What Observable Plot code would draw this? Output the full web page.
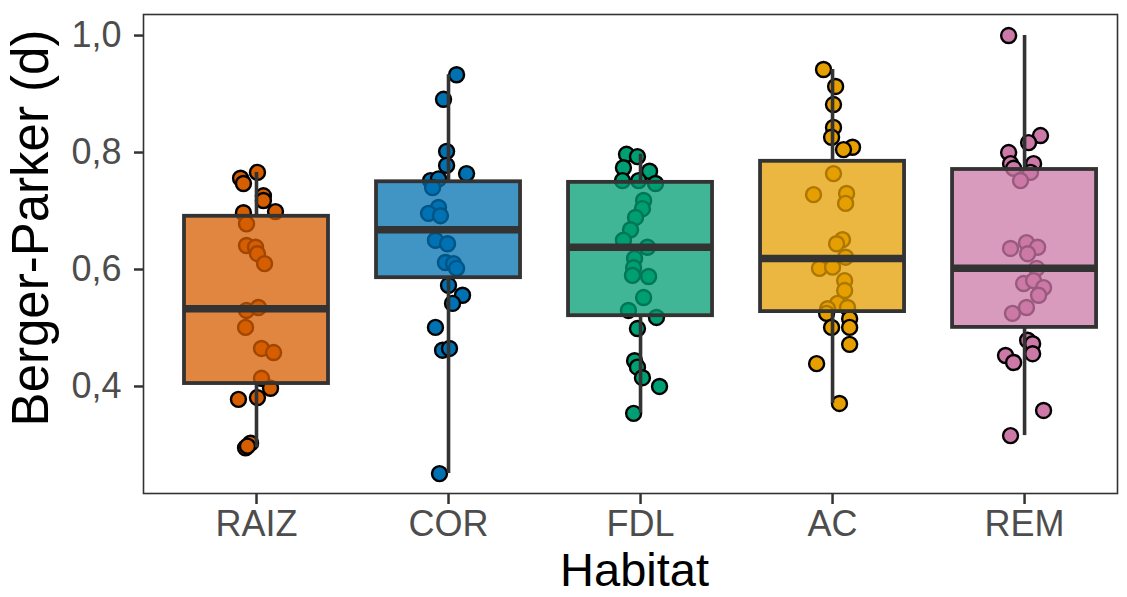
<!DOCTYPE html>
<html>
<head>
<meta charset="utf-8">
<script src="https://cdn.jsdelivr.net/npm/d3@7"></script>
<script src="https://cdn.jsdelivr.net/npm/@observablehq/plot@0.6"></script>
<style>
  html, body { margin: 0; padding: 0; background: #fff; }
  svg { display: block; }
</style>
</head>
<body>
<div id="chart"></div>
<script>
// ---- Data ----
const habitats = ["RAIZ", "COR", "FDL", "AC", "REM"];
const pointColors = ["#D55E00", "#0072B2", "#009E73", "#E69F00", "#CC79A7"];

// Berger-Parker values per habitat, and horizontal jitter (in category units)
const raizValues = [0.766, 0.756, 0.747, 0.726, 0.718, 0.697, 0.699, 0.678, 0.641, 0.638, 0.627, 0.610, 0.530, 0.535, 0.501, 0.465, 0.458, 0.414, 0.397, 0.381, 0.378, 0.303, 0.295, 0.298];
const raizJitter = [0.005, -0.083, -0.068, 0.036, 0.036, -0.068, 0.099, -0.052, -0.052, -0.005, 0.005, 0.042, -0.052, 0.010, -0.057, 0.026, 0.089, 0.026, 0.073, 0.005, -0.094, -0.031, -0.057, -0.047];

const corValues = [0.933, 0.891, 0.802, 0.778, 0.764, 0.752, 0.755, 0.740, 0.706, 0.696, 0.692, 0.650, 0.644, 0.612, 0.610, 0.602, 0.573, 0.556, 0.542, 0.501, 0.462, 0.465, 0.251];
const corJitter = [0.042, -0.026, -0.010, -0.010, 0.094, -0.094, -0.052, -0.083, -0.052, -0.104, -0.042, -0.068, -0.005, -0.016, 0.026, 0.042, 0.000, 0.073, 0.021, -0.068, -0.031, 0.005, -0.047];

const fdlValues = [0.797, 0.793, 0.774, 0.768, 0.752, 0.752, 0.747, 0.718, 0.704, 0.689, 0.668, 0.650, 0.638, 0.619, 0.603, 0.590, 0.588, 0.552, 0.530, 0.518, 0.499, 0.444, 0.433, 0.415, 0.400, 0.354];
const fdlJitter = [-0.073, -0.016, -0.089, 0.047, -0.094, -0.010, 0.078, 0.016, 0.010, -0.026, -0.052, -0.089, 0.036, -0.031, -0.036, -0.042, 0.042, 0.016, -0.063, 0.083, -0.016, -0.031, -0.016, 0.010, 0.099, -0.036];

const acValues = [0.942, 0.913, 0.882, 0.843, 0.826, 0.809, 0.805, 0.764, 0.728, 0.730, 0.713, 0.651, 0.644, 0.621, 0.602, 0.604, 0.581, 0.564, 0.542, 0.533, 0.535, 0.525, 0.516, 0.501, 0.501, 0.472, 0.439, 0.371];
const acJitter = [-0.047, 0.016, 0.005, 0.005, -0.005, 0.104, 0.057, 0.005, -0.099, 0.073, 0.068, 0.052, 0.021, 0.068, -0.068, 0.000, 0.063, 0.063, 0.026, -0.026, 0.078, -0.031, 0.089, 0.089, -0.005, 0.089, -0.083, 0.036];

const remValues = [1.000, 0.829, 0.817, 0.800, 0.781, 0.781, 0.773, 0.766, 0.752, 0.636, 0.646, 0.638, 0.627, 0.602, 0.576, 0.581, 0.569, 0.556, 0.535, 0.525, 0.479, 0.473, 0.456, 0.453, 0.441, 0.359, 0.316];
const remJitter = [-0.083, 0.083, 0.021, -0.083, -0.073, 0.047, -0.057, 0.031, -0.021, -0.073, 0.010, 0.068, 0.016, 0.063, -0.005, 0.047, 0.099, 0.073, 0.010, -0.063, 0.016, 0.042, 0.042, -0.099, -0.057, 0.099, -0.073];

// Box statistics per habitat
const whiskerLow  = [0.295, 0.251, 0.354, 0.371, 0.316];
const q1          = [0.405, 0.586, 0.521, 0.528, 0.501];
const medians     = [0.533, 0.668, 0.638, 0.619, 0.602];
const q3          = [0.691, 0.750, 0.749, 0.785, 0.771];
const whiskerHigh = [0.766, 0.933, 0.797, 0.942, 1.000];

const yTicks = [0.4, 0.6, 0.8, 1.0];

// ---- Build tables ----
const valueSets = [raizValues, corValues, fdlValues, acValues, remValues];
const jitterSets = [raizJitter, corJitter, fdlJitter, acJitter, remJitter];
const points = [];
habitats.forEach((h, i) => {
  valueSets[i].forEach((v, j) => {
    points.push({habitat: h, pos: i + 1 + jitterSets[i][j], value: v});
  });
});
const boxes = habitats.map((h, i) => ({
  habitat: h, pos: i + 1,
  lo: whiskerLow[i], q1: q1[i], med: medians[i], q3: q3[i], hi: whiskerHigh[i]
}));

const halfBox = 0.375;
const font = "'Liberation Sans', Arial, Helvetica, sans-serif";
const comma = d => d.toFixed(1).replace(".", ",");

const chart = Plot.plot({
  width: 1127,
  height: 597,
  marginLeft: 143,
  marginRight: 10,
  marginTop: 14,
  marginBottom: 104,
  style: {fontFamily: font, background: "#fff"},
  x: {domain: [0.4115, 5.484], axis: null},
  y: {domain: [0.217, 1.036], axis: null},
  color: {domain: habitats, range: pointColors},
  marks: [
    Plot.dot(points, {
      x: "pos", y: "value", r: 7.5,
      fill: "habitat", stroke: "#000", strokeWidth: 2.4
    }),
    Plot.ruleX(boxes, {x: "pos", y1: "q3", y2: "hi", stroke: "#333", strokeWidth: 3.6}),
    Plot.ruleX(boxes, {x: "pos", y1: "lo", y2: "q1", stroke: "#333", strokeWidth: 3.6}),
    Plot.rect(boxes, {
      x1: d => d.pos - halfBox, x2: d => d.pos + halfBox,
      y1: "q1", y2: "q3",
      fill: "habitat", fillOpacity: 0.75,
      stroke: "#333", strokeWidth: 3.8
    }),
    Plot.ruleY(boxes, {
      y: "med", x1: d => d.pos - halfBox, x2: d => d.pos + halfBox,
      stroke: "#333", strokeWidth: 7.5
    }),
    Plot.frame({stroke: "#333", strokeWidth: 1.6}),
    Plot.axisY(yTicks, {
      tickFormat: comma, tickSize: 9, tickPadding: 13,
      stroke: "#333", strokeWidth: 2.5, fill: "#4D4D4D",
      fontSize: 36, label: null
    }),
    Plot.axisX([1, 2, 3, 4, 5], {
      tickFormat: d => habitats[d - 1], tickSize: 11, tickPadding: 6,
      stroke: "#333", strokeWidth: 2.5, fill: "#4D4D4D",
      fontSize: 36, label: null
    }),
    Plot.text(["Habitat"], {
      frameAnchor: "bottom", dx: 4, dy: 77, fontSize: 47, fill: "#000",
      textAnchor: "middle", lineAnchor: "middle"
    }),
    Plot.text(["Berger-Parker (d)"], {
      frameAnchor: "left", dx: -112, dy: -26, rotate: -90, fontSize: 51, fill: "#000",
      textAnchor: "middle", lineAnchor: "middle"
    })
  ]
});
document.getElementById("chart").appendChild(chart);
</script>
</body>
</html>
